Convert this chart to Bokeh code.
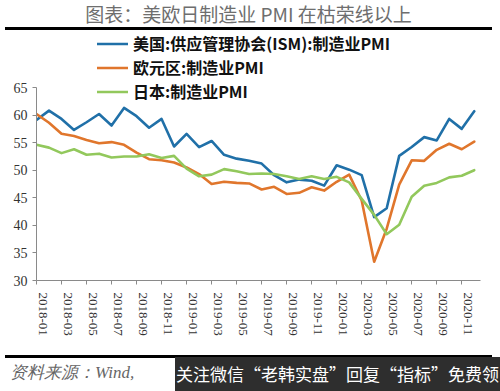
from bokeh.plotting import figure
from bokeh.layouts import column
from bokeh.models import (Legend, LegendItem, FixedTicker, Range1d, ColumnDataSource, Div)
from bokeh.embed import file_html
from bokeh.resources import INLINE

months = ["2018-01", "2018-02", "2018-03", "2018-04", "2018-05", "2018-06",
          "2018-07", "2018-08", "2018-09", "2018-10", "2018-11", "2018-12",
          "2019-01", "2019-02", "2019-03", "2019-04", "2019-05", "2019-06",
          "2019-07", "2019-08", "2019-09", "2019-10", "2019-11", "2019-12",
          "2020-01", "2020-02", "2020-03", "2020-04", "2020-05", "2020-06",
          "2020-07", "2020-08", "2020-09", "2020-10", "2020-11", "2020-12"]

us_ism = [59.1, 60.8, 59.3, 57.3, 58.7, 60.2, 58.1, 61.3, 59.8, 57.7, 59.3, 54.3,
          56.6, 54.2, 55.3, 52.8, 52.1, 51.7, 51.2, 49.1, 47.8, 48.3, 48.1, 47.2,
          50.9, 50.1, 49.1, 41.5, 43.1, 52.6, 54.2, 56.0, 55.4, 59.3, 57.5, 60.7]

euro_pmi = [60.2, 58.6, 56.6, 56.2, 55.5, 54.9, 55.1, 54.6, 53.2, 52.0, 51.8, 51.4,
            50.5, 49.3, 47.5, 47.9, 47.7, 47.6, 46.5, 47.0, 45.7, 45.9, 46.9, 46.3,
            47.9, 49.2, 44.5, 33.4, 39.4, 47.4, 51.8, 51.7, 53.7, 54.8, 53.8, 55.2]

japan_pmi = [54.6, 54.1, 53.1, 53.8, 52.8, 53.0, 52.3, 52.5, 52.5, 52.9, 52.2, 52.6,
             50.3, 48.9, 49.2, 50.2, 49.8, 49.3, 49.4, 49.3, 48.9, 48.4, 48.9, 48.4,
             48.8, 47.8, 44.8, 41.9, 38.4, 40.1, 45.2, 47.2, 47.7, 48.7, 49.0, 50.0]

series_names = ["美国:供应管理协会(ISM):制造业PMI", "欧元区:制造业PMI", "日本:制造业PMI"]
series_colors = ["#2070A8", "#E0762C", "#92C85C"]
y_ticks = [30, 35, 40, 45, 50, 55, 60, 65]

title_text = "图表：美欧日制造业 PMI 在枯荣线以上"
source_text = "资料来源：Wind,"
watermark_text = "关注微信“老韩实盘”回复“指标”免费领"

W = 500
TOP_H, MAIN_H, BOT_H = 31, 321, 39
FRAME_BOTTOM_PAD = 72
PX_PER_UNIT = 193 / 35.0          # 65 -> 30 spans 193 px
Y_TOP = 65 + 56 / PX_PER_UNIT     # extra room above 65 for the legend

BLOCK = "position:absolute;left:5px;width:487px;"

# ---- top strip: title over a black block whose bottom 3px form the rule ----
top = Div(width=W, height=TOP_H, margin=(0, 0, 0, 0), text=(
    f'<div style="position:relative;width:{W}px;height:{TOP_H}px;">'
    f'<div style="{BLOCK}top:0;height:30px;background:#000000;color:#000000;">&nbsp;</div>'
    f'<div style="{BLOCK}top:0;height:27px;background:#ffffff;text-align:center;'
    f'font-family:\'Noto Sans CJK SC\';font-size:19px;line-height:27px;color:#6e6e6e;'
    f'white-space:nowrap;">{title_text}</div></div>'))

# ---- main chart ----
idx = list(range(len(months)))
src = ColumnDataSource(dict(x=idx, us=us_ism, eu=euro_pmi, jp=japan_pmi))

p = figure(width=W, height=MAIN_H, output_backend="svg", toolbar_location=None,
           x_range=Range1d(0, len(months) - 0.5), y_range=Range1d(30, Y_TOP),
           min_border_left=36, min_border_right=20, min_border_top=0,
           min_border_bottom=FRAME_BOTTOM_PAD, background_fill_alpha=0,
           border_fill_alpha=0, outline_line_color=None, margin=(0, 0, 0, 0))
p.grid.visible = False

renderers = []
for col, c in zip(["us", "eu", "jp"], series_colors):
    r = p.line("x", col, source=src, line_color=c, line_width=2.6,
               line_join="round", line_cap="round")
    renderers.append(r)

xa = p.xaxis[0]
xa.ticker = FixedTicker(ticks=[i + 0.5 for i in idx[::2]], minor_ticks=idx[::2])
xa.major_label_overrides = {i + 0.5: months[i] for i in idx[::2]}
xa.major_label_orientation = "vertical"
xa.major_tick_out = 0
xa.major_tick_in = 0
xa.minor_tick_out = 4
xa.minor_tick_in = 0
xa.minor_tick_line_color = "#8a8a8a"
xa.axis_line_color = "#8a8a8a"
xa.major_label_text_font = "Liberation Serif"
xa.major_label_text_font_size = "13px"
xa.major_label_text_color = "#333333"
xa.major_label_standoff = 8

ya = p.yaxis[0]
ya.ticker = FixedTicker(ticks=y_ticks, minor_ticks=[])
ya.bounds = (y_ticks[0], y_ticks[-1])
ya.major_tick_out = 4
ya.major_tick_in = 0
ya.major_tick_line_color = "#8a8a8a"
ya.axis_line_color = "#8a8a8a"
ya.major_label_text_font = "Liberation Serif"
ya.major_label_text_font_size = "14px"
ya.major_label_text_color = "#333333"
ya.major_label_standoff = 5

legend = Legend(items=[LegendItem(label=n, renderers=[r]) for n, r in zip(series_names, renderers)],
                location=(61, 177), orientation="vertical",
                background_fill_alpha=0, border_line_color=None,
                padding=0, margin=0, spacing=0, label_height=17, glyph_height=17,
                glyph_width=31, label_standoff=5,
                label_text_font="Noto Sans CJK SC", label_text_font_style="bold",
                label_text_font_size="16px", label_text_color="#111111")
p.add_layout(legend, "center")

# ---- bottom strip: black block (top 3px visible as rule), source, watermark ----
bot = Div(width=W, height=BOT_H, margin=(0, 0, 0, 0), text=(
    f'<div style="position:relative;width:{W}px;height:{BOT_H}px;">'
    f'<div style="{BLOCK}top:3px;height:36px;background:#000000;color:#000000;">&nbsp;</div>'
    f'<div style="{BLOCK}top:6px;height:33px;background:#ffffff;padding-left:5px;'
    f'box-sizing:border-box;font-family:\'Liberation Serif\';font-style:italic;'
    f'font-size:17px;line-height:30px;color:#666;white-space:nowrap;">{source_text}</div>'
    f'<div style="position:absolute;left:175px;top:5px;width:325px;height:34px;'
    f'background:#2e2e2e;color:#fff;font-family:\'Noto Sans CJK SC\';font-size:17px;'
    f'line-height:34px;text-align:center;white-space:nowrap;">{watermark_text}</div>'
    f'</div>'))

layout = column(top, p, bot, spacing=0)
open("out.html", "w").write(file_html(layout, INLINE))
